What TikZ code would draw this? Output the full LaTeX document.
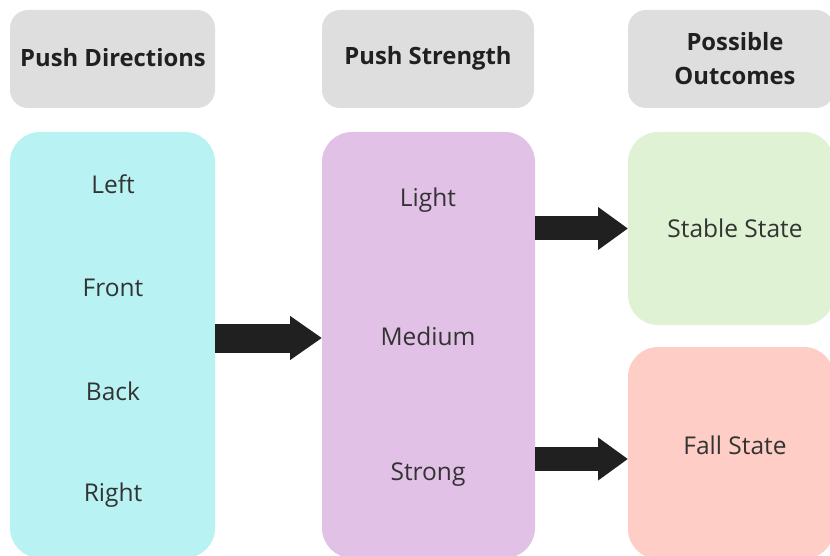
\documentclass[tikz,border=0pt]{standalone}
\usepackage{fontspec}
\setmainfont{Open Sans}
\usetikzlibrary{arrows.meta}

\definecolor{headgray}{HTML}{DEDEDE}
\definecolor{dircyan}{HTML}{B9F2F3}
\definecolor{strpurple}{HTML}{E2C1E7}
\definecolor{stablegreen}{HTML}{DFF2D4}
\definecolor{fallpink}{HTML}{FECEC6}
\definecolor{arrowblack}{HTML}{202020}
\definecolor{textgray}{HTML}{333333}

\tikzset{
  headbox/.style={fill=headgray, rounded corners=18pt, outer sep=0pt,
    text=arrowblack, font=\fontsize{23.8}{34}\selectfont\bfseries, align=center},
  groupbox/.style={rounded corners=30pt, outer sep=0pt, inner sep=0pt},
  item/.style={text=textgray, font=\fontsize{24.5}{28}\selectfont},
  bigarrow/.style={draw=arrowblack, line width=29pt,
    -{Triangle[length=32pt,width=42pt]}},
  smallarrow/.style={draw=arrowblack, line width=24pt,
    -{Triangle[length=30pt,width=41pt]}}
}

\begin{document}
\begin{tikzpicture}[x=1pt,y=-1pt]
  \useasboundingbox (0,0) rectangle (830,556);

  % column headers
  \node[headbox, minimum width=205pt, minimum height=98pt] (hdir) at (112.5,59) {};
  \node[headbox, minimum width=212pt, minimum height=98pt] (hstr) at (428,59) {};
  \node[headbox, minimum width=206pt, minimum height=98pt] (hout) at (731,59) {};
  \node[headbox, fill=none] (hdirlbl) at (113,58) {Push Directions};
  \node[headbox, fill=none] (hstrlbl) at (428,58) {Push Strength};
  \node[headbox, fill=none] (houtlbl) at (735,59) {Possible\\Outcomes};

  % boxes
  \node[groupbox, fill=dircyan, minimum width=205pt, minimum height=426pt] (dir) at (112.5,345) {};
  \node[groupbox, fill=strpurple, minimum width=213pt, minimum height=426pt] (str) at (428.5,345) {};
  \node[groupbox, fill=stablegreen, minimum width=206pt, minimum height=193pt] (stable) at (731,228.5) {};
  \node[groupbox, fill=fallpink, minimum width=206pt, minimum height=212pt] (fall) at (731,453) {};

  % items
  \node[item] (left)   at (113,184) {Left};
  \node[item] (front)  at (113,288) {Front};
  \node[item] (back)   at (113,391) {Back};
  \node[item] (right)  at (113,495) {Right};

  \node[item] (light)  at (428,200) {Light};
  \node[item] (medium) at (428,336) {Medium};
  \node[item] (strong) at (428,475) {Strong};

  \node[item] (stablelbl) at (735,228) {Stable State};
  \node[item] (falllbl)   at (735,445) {Fall State};

  % arrows
  \draw[bigarrow] ([yshift=7pt]dir.east) -- ([yshift=7pt]str.west);
  \draw[smallarrow] (str.east |- stable.west) -- (stable.west);
  \draw[smallarrow] ([yshift=-6pt]str.east |- fall.west) -- ([yshift=-6pt]fall.west);
\end{tikzpicture}
\end{document}
